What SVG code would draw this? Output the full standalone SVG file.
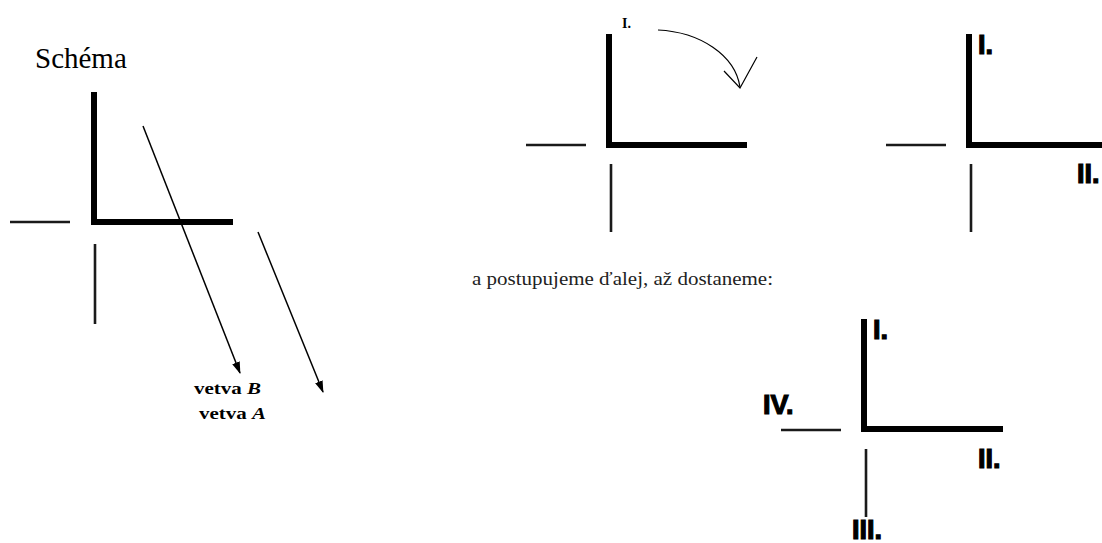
<svg xmlns="http://www.w3.org/2000/svg" width="1102" height="543" viewBox="0 0 1102 543">
<style>
.thick{fill:none;stroke:#000;stroke-width:6;stroke-linejoin:miter}
.thin{fill:none;stroke:#1a1a1a;stroke-width:2.6}
.ser{font-family:"Liberation Serif","Times New Roman",serif;fill:#000}
.lbl{font-family:"Liberation Sans",Arial,sans-serif;font-weight:bold;font-size:27px;fill:#000;stroke:#000;stroke-width:1.2}
.arr{fill:none;stroke:#000;stroke-width:1.5}
</style>
<defs>
<marker id="ah" viewBox="0 0 12 8" refX="11" refY="4" markerWidth="12" markerHeight="8" orient="auto" markerUnits="userSpaceOnUse">
<path d="M0,0 L12,4 L0,8 Z" fill="#000"/>
</marker>
</defs>
<rect width="1102" height="543" fill="#fff"/>

<g id="schema">
<text class="ser" x="35" y="68" font-size="29">Schéma</text>
<polyline class="thick" points="94,92 94,222 233,222"/>
<line class="thin" x1="10" y1="222" x2="70" y2="222"/>
<line class="thin" x1="95" y1="244" x2="95" y2="324"/>
</g>

<g id="connectors">
<line class="arr" x1="143" y1="126" x2="240" y2="373" marker-end="url(#ah)"/>
<line class="arr" x1="258" y1="232" x2="323" y2="392" marker-end="url(#ah)"/>
<path d="M658,30 C700,32 735,55 740,87" fill="none" stroke="#000" stroke-width="1.2"/>
<polyline points="724,71 740,88 757,57" fill="none" stroke="#000" stroke-width="1.2"/>
</g>

<g id="labels-vetva">
<text class="ser" x="194" y="394" font-size="17" font-weight="bold" textLength="67" lengthAdjust="spacingAndGlyphs">vetva <tspan font-style="italic">B</tspan></text>
<text class="ser" x="199" y="419" font-size="17" font-weight="bold" textLength="67" lengthAdjust="spacingAndGlyphs">vetva <tspan font-style="italic">A</tspan></text>
</g>

<g id="step1">
<text class="ser" x="622" y="28" font-size="14" font-weight="bold">I.</text>
<polyline class="thick" points="609,34 609,145 747,145"/>
<line class="thin" x1="526" y1="145" x2="586" y2="145"/>
<line class="thin" x1="611" y1="164" x2="611" y2="232"/>
</g>

<g id="step2">
<polyline class="thick" points="969,34 969,145 1110,145"/>
<line class="thin" x1="886" y1="145" x2="946" y2="145"/>
<line class="thin" x1="971" y1="164" x2="971" y2="232"/>
<text class="lbl" x="978" y="54">I.</text>
<text class="lbl" x="1077" y="183">II.</text>
</g>

<g id="caption">
<text x="472" y="285" font-family="'Liberation Serif', 'DejaVu Serif', serif" font-size="18" textLength="301" lengthAdjust="spacingAndGlyphs" fill="#222">a postupujeme ďalej, až dostaneme:</text>
</g>

<g id="final">
<polyline class="thick" points="864,319 864,429 1003,429"/>
<line class="thin" x1="781" y1="430" x2="841" y2="430"/>
<line class="thin" x1="866" y1="449" x2="866" y2="517"/>
<text class="lbl" x="873" y="339">I.</text>
<text class="lbl" x="978" y="468">II.</text>
<text class="lbl" x="852" y="539">III.</text>
<text class="lbl" x="763" y="414">IV.</text>
</g>
</svg>
